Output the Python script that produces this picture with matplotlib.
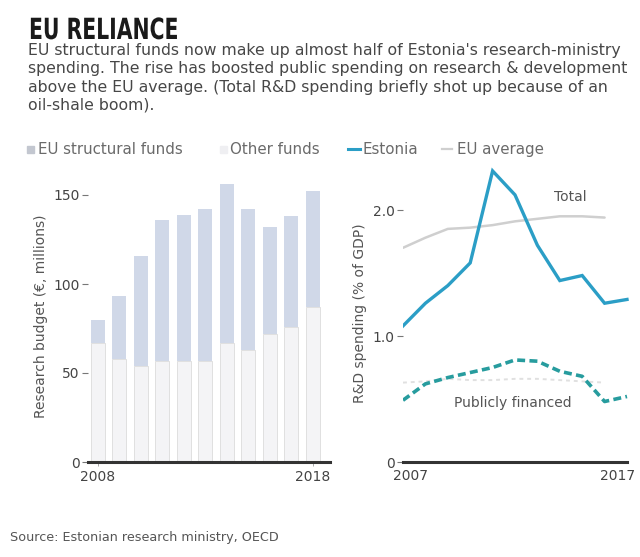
# EU reliance chart: research budget bars + R&D spending lines

import matplotlib
matplotlib.use('Agg')
import matplotlib.pyplot as plt
from matplotlib.lines import Line2D
from matplotlib.patches import Rectangle
from matplotlib.transforms import Affine2D, ScaledTranslation
import matplotlib.patheffects as pe

#------ Data ------
budget_years = [2008, 2009, 2010, 2011, 2012, 2013, 2014, 2015, 2016, 2017, 2018]
other_funds  = [67, 58, 54, 57, 57, 57, 67, 63, 72, 76, 87]
eu_funds     = [13, 35, 62, 79, 82, 85, 89, 79, 60, 62, 65]

rd_years        = [2007, 2008, 2009, 2010, 2011, 2012, 2013, 2014, 2015, 2016, 2017]
estonia_total   = [1.08, 1.26, 1.40, 1.58, 2.31, 2.12, 1.72, 1.44, 1.48, 1.26, 1.29]
estonia_public  = [0.49, 0.62, 0.67, 0.71, 0.75, 0.81, 0.80, 0.72, 0.68, 0.48, 0.52]
eu_years        = [2007, 2008, 2009, 2010, 2011, 2012, 2013, 2014, 2015, 2016]
eu_total        = [1.70, 1.78, 1.85, 1.86, 1.88, 1.91, 1.93, 1.95, 1.95, 1.94]
eu_public       = [0.63, 0.64, 0.66, 0.65, 0.65, 0.66, 0.66, 0.65, 0.64, 0.63]

left_yticks  = [0, 50, 100, 150]
right_yticks = [0, 1.0, 2.0]
right_ylabels = ['0', '1.0', '2.0']

#------ Style ------
W, H = 640, 557
plt.rcParams['font.family'] = ['DejaVu Sans']
txt = '#474747'
eu_col = '#d0d8e8'
other_col = '#f4f4f6'
est_col = '#2b9ec6'
pub_col = '#279c9e'
grey = '#cfcfcf'
lab = '#555555'

fig = plt.figure(figsize=(W / 100, H / 100), dpi=100)
fig.patch.set_facecolor('white')

def fx(px):
    return px / W

def fy(py):
    return 1 - py / H


# squeeze text horizontally (title font is a condensed face)
class Squeeze(pe.AbstractPathEffect):
    def __init__(self, sx, x0):
        super().__init__()
        self.sx = sx
        self.x0 = x0

    def draw_path(self, renderer, gc, tpath, affine, rgbFace=None):
        t = affine + Affine2D().translate(-self.x0, 0).scale(self.sx, 1).translate(self.x0, 0)
        renderer.draw_path(gc, tpath, t, rgbFace)


# ------ Header ------
title = fig.text(fx(29), fy(39), 'EU RELIANCE', fontsize=21, fontweight='bold',
                 color='#1a1a1a')
fig.canvas.draw()
tw = title.get_window_extent().width
title.set_path_effects([Squeeze(149 / tw, 29)])

sub = ["EU structural funds now make up almost half of Estonia's research-ministry",
       "spending. The rise has boosted public spending on research & development",
       "above the EU average. (Total R&D spending briefly shot up because of an",
       "oil-shale boom)."]
for i, line in enumerate(sub):
    fig.text(fx(28), fy(55 + i * 18.3), line, fontsize=11.3, color=txt)

# ------ Legend row ------
ly = 149
fig.add_artist(Rectangle((fx(27), fy(ly + 4)), fx(7), 7 / H, color='#c3c7d0',
                         transform=fig.transFigure))
fig.text(fx(38), fy(ly + 5), 'EU structural funds', fontsize=10.8, color='#6a6a6a')
fig.add_artist(Rectangle((fx(220), fy(ly + 4)), fx(7), 7 / H, color='#efeff2',
                         transform=fig.transFigure))
fig.text(fx(230), fy(ly + 5), 'Other funds', fontsize=10.8, color='#6a6a6a')
fig.add_artist(Line2D([fx(348), fx(360)], [fy(ly), fy(ly)], color=est_col, lw=2.2,
                      transform=fig.transFigure))
fig.text(fx(363), fy(ly + 5), 'Estonia', fontsize=10.8, color='#6a6a6a')
fig.add_artist(Line2D([fx(442), fx(452)], [fy(ly), fy(ly)], color=grey, lw=1.6,
                      transform=fig.transFigure))
fig.text(fx(457), fy(ly + 5), 'EU average', fontsize=10.8, color='#6a6a6a')

# ------ Left: research budget bars ------
ax1 = fig.add_axes([fx(88), fy(462), fx(330 - 88), (462 - 170) / H])
ax1.bar(budget_years, other_funds, width=0.66, color=other_col,
        edgecolor='#dcdcdc', linewidth=0.6)
ax1.bar(budget_years, eu_funds, bottom=other_funds, width=0.66, color=eu_col,
        edgecolor='none')
ax1.set_xlim(2007.55, 2018.8)
ax1.set_ylim(0, (462 - 170) / 1.78)
ax1.set_yticks(left_yticks)
ax1.set_xticks([2008, 2018])
ax1.tick_params(axis='y', length=4, width=0.8, color='#777777', pad=2,
                labelsize=10, labelcolor='#444444')
ax1.tick_params(axis='x', length=3, width=0.6, color='#999999', pad=3,
                labelsize=10, labelcolor='#444444')
for s in ['top', 'right', 'left']:
    ax1.spines[s].set_visible(False)
ax1.spines['bottom'].set_linewidth(2.2)
ax1.spines['bottom'].set_color('#333333')
ax1.set_ylabel('Research budget (\u20ac, millions)', fontsize=10, color=lab,
               labelpad=4)
ax1.patch.set_alpha(0)

# ------ Right: R&D spending lines ------
ax2 = fig.add_axes([fx(403), fy(462), fx(632 - 403), (462 - 165) / H])
ax2.plot(eu_years, eu_total, color=grey, lw=1.8, solid_capstyle='round')
ax2.plot(eu_years, eu_public, color='#e0e0e0', lw=1.4, linestyle=(0, (2, 2)))
ax2.plot(rd_years, estonia_total, color=est_col, lw=2.4, solid_joinstyle='miter')
ax2.plot(rd_years, estonia_public, color=pub_col, lw=2.6, linestyle=(0, (2.2, 1.2)))
ax2.set_xlim(2007, 2017 + 5 / 22.4)
ax2.set_ylim(0, (462 - 165) / 126)
ax2.set_yticks(right_yticks)
ax2.set_yticklabels(right_ylabels)
ax2.set_xticks([2007, 2017])
ax2.tick_params(axis='y', length=4, width=0.8, color='#777777', pad=2,
                labelsize=10, labelcolor='#444444')
ax2.tick_params(axis='x', length=0, pad=5, labelsize=10, labelcolor='#444444')
xl = ax2.get_xticklabels()
xl[0].set_transform(xl[0].get_transform() + ScaledTranslation(8 / 100, 0, fig.dpi_scale_trans))
xl[1].set_transform(xl[1].get_transform() + ScaledTranslation(-9 / 100, 0, fig.dpi_scale_trans))
for s in ['top', 'right', 'left']:
    ax2.spines[s].set_visible(False)
ax2.spines['bottom'].set_bounds(2007, 2017)
ax2.spines['bottom'].set_linewidth(2.2)
ax2.spines['bottom'].set_color('#333333')
ax2.set_ylabel('R&D spending (% of GDP)', fontsize=10, color=lab, labelpad=4)
ax2.text(2013.75, 2.07, 'Total', fontsize=10, color=lab)
ax2.text(2011.9, 0.47, 'Publicly financed', fontsize=10, color=lab,
         ha='center', va='center')
ax2.patch.set_alpha(0)

# ------ Footer ------
fig.text(fx(10), fy(541), 'Source: Estonian research ministry, OECD', fontsize=9.2,
         color=lab)

fig.savefig('out.png', dpi=100)
